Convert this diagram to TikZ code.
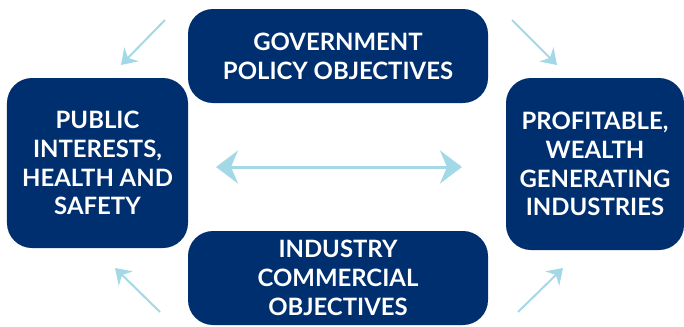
\documentclass[tikz,border=0pt]{standalone}
\usepackage{fontspec}
\setmainfont{Lato}[BoldFont={Lato Bold}]
\usepackage{tikz}
\usetikzlibrary{arrows.meta,positioning}
\definecolor{navyblue}{HTML}{002F6F}
\definecolor{paleblue}{HTML}{A3D9E6}

\begin{document}
\begin{tikzpicture}[
		x=1bp, y=-1bp,
		node distance=107bp,
		font=\bfseries\fontsize{24}{29}\selectfont,
		goal/.style={
			rectangle,
			rounded corners=25bp,
			fill=navyblue,
			text=white,
			align=center,
			inner sep=0pt
		},
		link/.style={
			draw=paleblue,
			line width=2bp,
			-{Stealth[length=15bp,width=20bp,inset=5bp]}
		},
		both/.style={
			draw=paleblue,
			line width=3bp,
			{Stealth[length=22bp,width=33bp,inset=7bp]}-{Stealth[length=22bp,width=33bp,inset=7bp]}
		}
		]
		\useasboundingbox (0,0) rectangle (684,326);
		% We start by placing the blocks
		
		\node [goal, minimum width=300bp, minimum height=94bp] at (338,56) (gov)
		{GOVERNMENT\\POLICY OBJECTIVES};
		
		\node [goal, minimum width=181bp, minimum height=170bp,
			below of=gov, xshift=-240.5bp] (pub)
		{PUBLIC\\INTERESTS,\\HEALTH AND\\SAFETY};
		
		\node [goal, minimum width=178bp, minimum height=172bp,
			below of=gov, xshift=257bp, yshift=-1bp] (prof)
		{PROFITABLE,\\WEALTH\\GENERATING\\INDUSTRIES};
		
		\node [goal, minimum width=300bp, minimum height=94bp,
			below of=gov, yshift=-115bp] (ind)
		{INDUSTRY\\COMMERCIAL\\OBJECTIVES};
		
		% free ends of the arrows
		\coordinate (tlA) at (165,20);
		\coordinate (tlB) at (121,65);
		\coordinate (trA) at (512,20);
		\coordinate (trB) at (557,65);
		\coordinate (blA) at (160,312);
		\coordinate (blB) at (115,268);
		\coordinate (brA) at (518,312);
		\coordinate (brB) at (563,268);
		\coordinate (midL) at (216,167);
		\coordinate (midR) at (462,167);
		
		\draw [link] (tlA) -- (tlB);
		\draw [link] (trA) -- (trB);
		\draw [link] (blA) -- (blB);
		\draw [link] (brA) -- (brB);
		\draw [both] (midL) -- (midR);
		
\end{tikzpicture}
\end{document}
